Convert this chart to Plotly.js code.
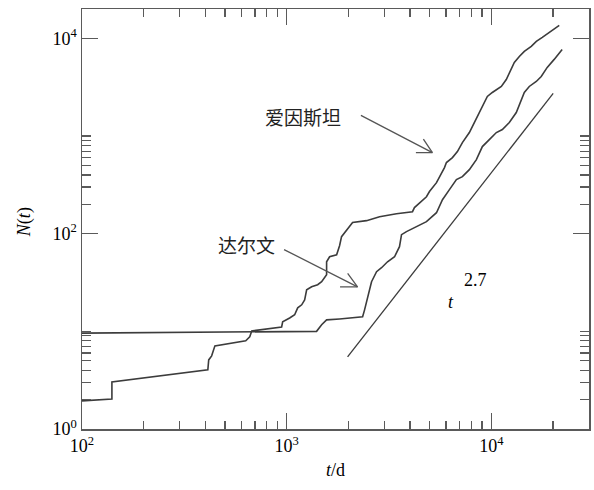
<!DOCTYPE html>
<html>
<head>
<meta charset="utf-8">
<script src="https://cdn.plot.ly/plotly-3.0.1.min.js"></script>
<style>html,body{margin:0;padding:0;background:#fff;}#chart{width:594px;height:490px;}</style>
</head>
<body>
<div id="chart"></div>
<script>
// Einstein (upper curve)
const einsteinT = [100,140,140,412,416,430,446,631,660,675,945,956,1034,1094,1132,1184,1224,1252,1324,1417,1482,1567,1567,1621,1754,1813,1854,1962,2099,2455,2843,3440,4118,4210,4354,4819,4985,5395,5902,6034,6455,6827,7220,7809,8074,8550,9040,9560,10110,11190,11830,12240,12950,13700,14490,15670,16590,17740,19180,21470];
const einsteinN = [1.94,2.03,3.03,4.03,5.10,5.61,7.10,7.99,8.78,10.1,11.1,12.5,13.7,14.8,17.4,18.7,21.0,26.6,28.6,30.0,32.2,38.0,51.6,58.1,60.9,75.3,93.2,110,130,136,149,160,168,185,198,239,270,333,475,535,602,693,857,1086,1251,1585,2007,2542,2792,3219,3796,4478,5670,6536,7359,8280,9315,10240,11530,13590];
// Darwin (lower curve)
const darwinT = [100,590,1400,1482,1567,1813,2350,2402,2484,2598,2749,2907,3110,3366,3558,3640,3849,4307,4819,5395,5770,6240,6750,7220,7809,8450,9040,9775,10580,11320,12240,13240,13700,14490,15320,16580,17530,18750,20280,22180];
const darwinN = [9.58,9.88,10.0,11.7,13.1,13.4,14.1,16.6,22.6,32.2,40.8,44.8,51.6,58.1,73.6,97.7,105,118,133,164,223,283,358,384,453,574,780,920,1086,1166,1375,1742,2104,2792,3219,3622,4077,5044,6095,7709];
// t^2.7 reference line endpoints
const fitT = [1984, 20050];
const fitN = [5.47, 2729];

const xTickVals = [100, 1000, 10000];
const xTickText = ['10<sup>2</sup>', '10<sup>3</sup>', '10<sup>4</sup>'];
const xMinorVals = [200,300,400,500,600,700,800,900,2000,3000,4000,5000,6000,7000,8000,9000,20000];
const yTickVals = [1, 100, 10000];
const yTickText = ['10<sup>0</sup>', '10<sup>2</sup>', '10<sup>4</sup>'];
const yMinorVals = [2,3,4,5,6,7,8,9,10,200,300,400,500,600,700,800,900,1000];

const lineColor = '#3c3c3c';
const axisColor = '#5a5a5a';
const arrowColor = '#555';
const serif = 'Liberation Serif, Noto Sans CJK SC, serif';

const traces = [
  {x: einsteinT, y: einsteinN, mode: 'lines', line: {color: lineColor, width: 1.6}, hoverinfo: 'skip'},
  {x: darwinT, y: darwinN, mode: 'lines', line: {color: lineColor, width: 1.6}, hoverinfo: 'skip'},
  {x: fitT, y: fitN, mode: 'lines', line: {color: lineColor, width: 1.3}, hoverinfo: 'skip'}
];

const L = Math.log10;
const axisCommon = {
  type: 'log', showgrid: false, zeroline: false,
  showline: true, linecolor: axisColor, linewidth: 1.5, mirror: 'ticks',
  ticks: 'inside', ticklen: 16, tickwidth: 1.3, tickcolor: axisColor,
  tickfont: {family: serif, size: 18, color: '#000'},
  tickmode: 'array'
};

// plain-line arrow: shaft plus two barbs, all ending at the tip
function arrow(x, y, ax, ay, barbs) {
  const out = [{xref: 'x', yref: 'y', x: x, y: y, text: '', showarrow: true, ax: ax, ay: ay,
    arrowhead: 0, arrowwidth: 1.3, arrowcolor: arrowColor, standoff: 0}];
  barbs.forEach(b => out.push({xref: 'x', yref: 'y', x: x, y: y, text: '', showarrow: true,
    ax: b[0], ay: b[1], arrowhead: 0, arrowwidth: 1.3, arrowcolor: arrowColor, standoff: 0}));
  return out;
}

const layout = {
  width: 594, height: 490,
  margin: {l: 82, r: 5, t: 9, b: 61},
  paper_bgcolor: '#fff', plot_bgcolor: '#fff',
  showlegend: false,
  font: {family: serif, color: '#000'},
  xaxis: Object.assign({}, axisCommon, {
    range: [2, L(30000)],
    tickvals: xTickVals, ticktext: xTickText,
    minor: {tickmode: 'array', tickvals: xMinorVals, ticks: 'inside', ticklen: 8, tickwidth: 1.3, tickcolor: axisColor},
    title: {text: '<i>t</i>/d', font: {family: serif, size: 18, color: '#000'}, standoff: 8}
  }),
  yaxis: Object.assign({}, axisCommon, {
    range: [0, L(20000)],
    tickvals: yTickVals, ticktext: yTickText,
    minor: {tickmode: 'array', tickvals: yMinorVals, ticks: 'inside', ticklen: 9, tickwidth: 1.3, tickcolor: axisColor}
  }),
  annotations: [
    {xref: 'paper', yref: 'paper', x: -0.112, y: 0.493, xanchor: 'center', yanchor: 'middle',
     text: '<i>N</i>(<i>t</i>)', textangle: -90,
     showarrow: false, font: {family: serif, size: 18, color: '#000'}},
    {xref: 'x', yref: 'y', x: 3.080, y: 3.20, text: '爱因斯坦', showarrow: false,
     font: {family: 'Noto Sans CJK SC', size: 19, color: '#222'}},
    ...arrow(3.712, 2.831, -73, -38, [[-18, 0], [-10, -15]]),
    {xref: 'x', yref: 'y', x: 2.802, y: 1.887, text: '达尔文', showarrow: false,
     font: {family: 'Noto Sans CJK SC', size: 19, color: '#222'}},
    ...arrow(3.3463, 1.456, -75, -38, [[-19, 0], [-11, -15]]),
    {xref: 'x', yref: 'y', x: 3.805, y: 1.303, text: '<i>t</i>', showarrow: false,
     font: {family: serif, size: 18, color: '#000'}},
    {xref: 'x', yref: 'y', x: 3.922, y: 1.528, text: '2.7', showarrow: false,
     font: {family: serif, size: 18, color: '#000'}}
  ]
};

Plotly.newPlot('chart', traces, layout, {displayModeBar: false, staticPlot: true});
</script>
</body>
</html>
